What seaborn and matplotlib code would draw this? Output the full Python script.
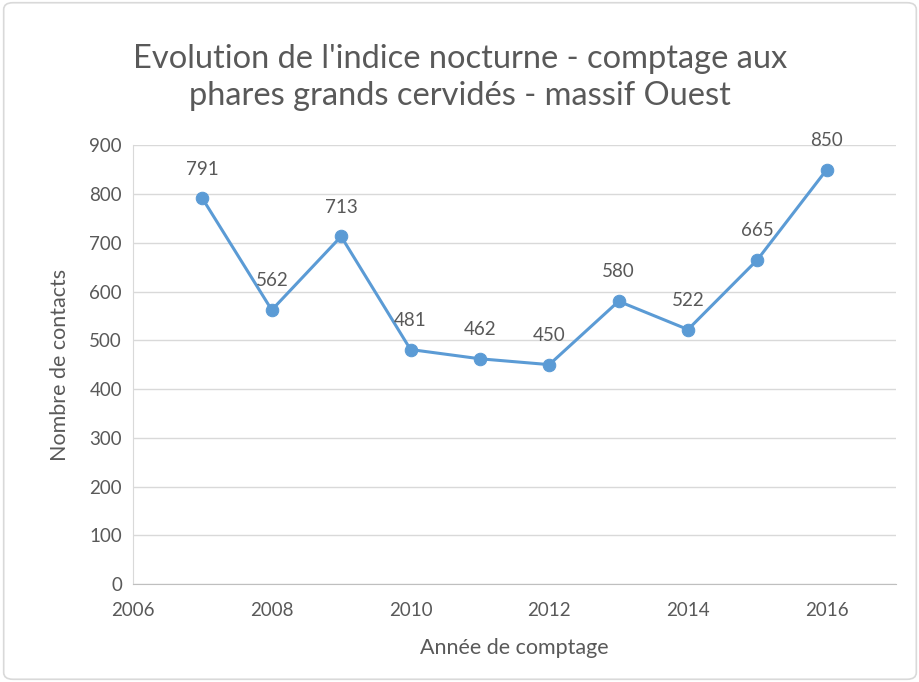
import matplotlib
matplotlib.use("Agg")
import matplotlib.pyplot as plt
import seaborn as sns
import pandas as pd
from matplotlib.patches import FancyBboxPatch

# data
years = [2007, 2008, 2009, 2010, 2011, 2012, 2013, 2014, 2015, 2016]
contacts = [791, 562, 713, 481, 462, 450, 580, 522, 665, 850]

df = pd.DataFrame({"annee": years, "contacts": contacts})

sns.set_style("white")
plt.rcParams['font.family'] = ['Lato', 'DejaVu Sans']

line_color = "#5B9BD5"
text_color = "#595959"
grid_color = "#D9D9D9"

fig = plt.figure(figsize=(9.2, 6.82), dpi=100)
ax = fig.add_axes([0.1446, 0.1437, 0.8294, 0.6433])

# outer chart border
fig.patches.append(FancyBboxPatch((0.004, 0.004), 0.992, 0.992,
                                  boxstyle="round,pad=0,rounding_size=0.01",
                                  transform=fig.transFigure, fill=False,
                                  edgecolor="#D9D9D9", linewidth=1.2))

sns.lineplot(data=df, x="annee", y="contacts", ax=ax, color=line_color,
             linewidth=2.2, marker="o", markersize=9,
             markeredgecolor=line_color, markerfacecolor=line_color)

for x, y in zip(years, contacts):
    ax.annotate(str(y), (x, y), xytext=(0, 15), textcoords="offset points",
                ha="center", va="bottom", fontsize=13.5, color=text_color)

ax.set_xlim(2006, 2017)
ax.set_ylim(0, 900)
ax.set_xticks(range(2006, 2017, 2))
ax.set_yticks(range(0, 901, 100))
ax.yaxis.grid(True, color=grid_color, linewidth=1)
ax.set_axisbelow(True)

for side in ["top", "right"]:
    ax.spines[side].set_visible(False)
ax.spines["left"].set_color(grid_color)
ax.spines["bottom"].set_color("#BFBFBF")

ax.tick_params(axis="both", labelsize=13.5, colors=text_color, length=0, pad=8)
ax.tick_params(axis="x", length=5, color="#BFBFBF", direction="out")

ax.set_xlabel("Année de comptage", fontsize=15.5, color=text_color, labelpad=14)
ax.set_ylabel("Nombre de contacts", fontsize=15.5, color=text_color, labelpad=14)

fig.text(0.5, 0.886, "Evolution de l'indice nocturne - comptage aux\nphares grands cervidés - massif Ouest",
         ha="center", va="center", fontsize=23.5, color=text_color, linespacing=1.3)

fig.savefig("out.png", dpi=100)
